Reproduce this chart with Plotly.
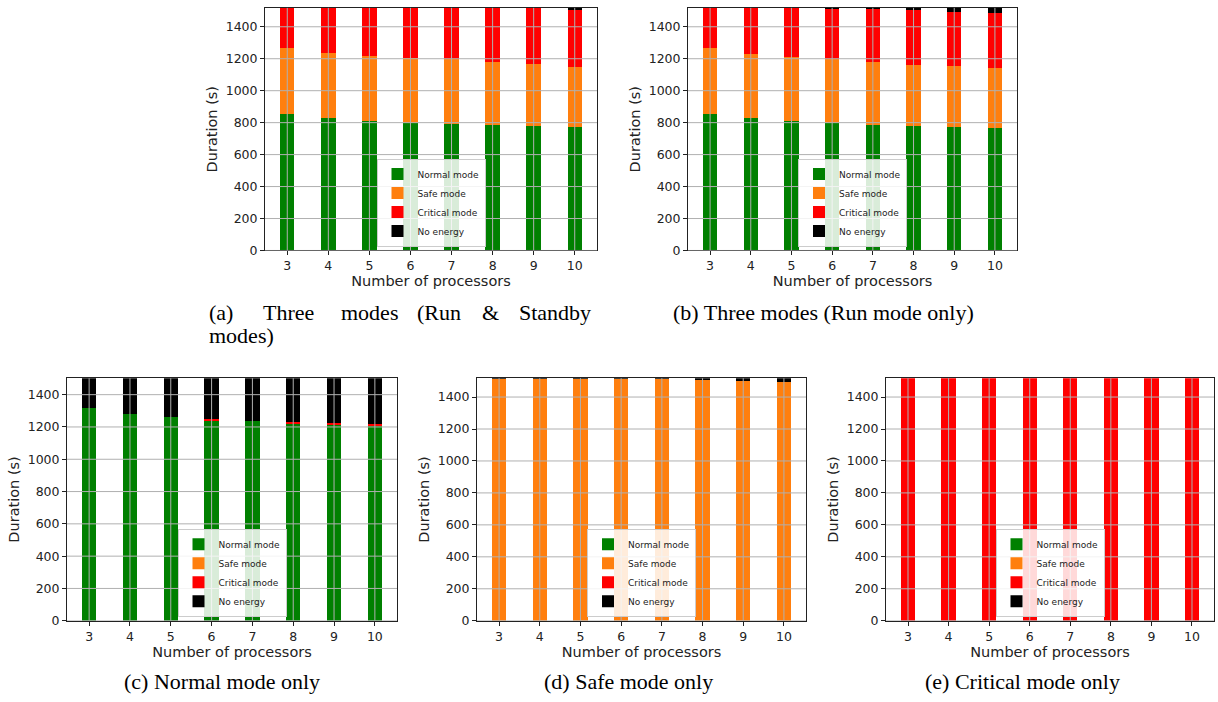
import plotly.graph_objects as go

W, H = 1218, 702

processors = [3, 4, 5, 6, 7, 8, 9, 10]
modes = ["Normal mode", "Safe mode", "Critical mode", "No energy"]
mode_colors = ["#008000", "#ff7f0e", "#ff0000", "#000000"]

# (a) Three modes (Run & Standby modes)
a_normal = [854, 827, 808, 798, 790, 786, 777, 771]
a_safe = [414, 410, 411, 406, 408, 391, 392, 380]
a_critical = [250, 281, 299, 314, 320, 341, 349, 357]
a_noenergy = [0, 0, 0, 0, 0, 0, 0, 10]

# (b) Three modes (Run mode only)
b_normal = [854, 827, 808, 796, 786, 779, 771, 765]
b_safe = [414, 404, 404, 402, 395, 384, 386, 379]
b_critical = [250, 287, 306, 318, 334, 345, 338, 345]
b_noenergy = [0, 0, 0, 2, 3, 10, 23, 29]

# (c) Normal mode only
c_normal = [1315, 1278, 1260, 1239, 1235, 1223, 1215, 1210]
c_safe = [0, 0, 0, 0, 0, 0, 0, 0]
c_critical = [0, 0, 0, 8, 0, 5, 7, 6]
c_noenergy = [187, 224, 242, 255, 267, 274, 280, 286]

# (d) Safe mode only
d_normal = [0, 0, 0, 0, 0, 0, 0, 0]
d_safe = [1514, 1514, 1514, 1514, 1514, 1509, 1499, 1493]
d_critical = [0, 0, 0, 0, 0, 0, 0, 0]
d_noenergy = [4, 4, 4, 4, 4, 9, 19, 25]

# (e) Critical mode only
e_normal = [0, 0, 0, 0, 0, 0, 0, 0]
e_safe = [0, 0, 0, 0, 0, 0, 0, 0]
e_critical = [1518, 1518, 1518, 1518, 1518, 1518, 1518, 1518]
e_noenergy = [0, 0, 0, 0, 0, 0, 0, 0]

panels = [
    [a_normal, a_safe, a_critical, a_noenergy],
    [b_normal, b_safe, b_critical, b_noenergy],
    [c_normal, c_safe, c_critical, c_noenergy],
    [d_normal, d_safe, d_critical, d_noenergy],
    [e_normal, e_safe, e_critical, e_noenergy],
]
y_max = [1518, 1518, 1502, 1518, 1518]
y_ticks = [0, 200, 400, 600, 800, 1000, 1200, 1400]

# pixel boxes of each axes: (left, right, top, bottom)
boxes = [
    (265, 597, 8, 253),
    (688, 1017, 8, 253),
    (67, 397, 382, 627),
    (477, 806, 382, 627),
    (886, 1214, 382, 627),
]

bar_w = 0.35
x_range = [3 - bar_w / 2 - 0.3675, 10 + bar_w / 2 + 0.3675]

fig = go.Figure()
layout = dict(
    width=W, height=H,
    margin=dict(l=0, r=0, t=0, b=0),
    paper_bgcolor="white", plot_bgcolor="white",
    barmode="stack",
    font=dict(family="DejaVu Sans", size=12, color="#000000"),
    showlegend=True,
)
shapes = []
annotations = []

for i, (series, box) in enumerate(zip(panels, boxes)):
    n = i + 1
    xa = "x" if n == 1 else f"x{n}"
    ya = "y" if n == 1 else f"y{n}"
    lg = "legend" if n == 1 else f"legend{n}"
    for name, vals, col in zip(modes, series, mode_colors):
        fig.add_trace(go.Bar(
            x=processors, y=vals, name=name, width=bar_w,
            marker=dict(color=col, line=dict(width=0)),
            xaxis=xa, yaxis=ya, legend=lg, showlegend=True,
        ))
    l, r, t, b = box
    dx = [l / W, r / W]
    dy = [1 - b / H, 1 - t / H]
    axkey = "xaxis" if n == 1 else f"xaxis{n}"
    aykey = "yaxis" if n == 1 else f"yaxis{n}"
    layout[axkey] = dict(
        domain=dx, anchor=ya, range=x_range,
        tickmode="array", tickvals=processors, ticktext=[str(p) for p in processors],
        showgrid=False, zeroline=False,
        showline=True, linecolor="#222222", linewidth=1, mirror=True,
        ticks="outside", ticklen=4, tickcolor="#222222", tickwidth=1,
        tickfont=dict(size=12.5, color="#222222"),
        title=dict(text="Number of processors", font=dict(size=14.5, color="#222222"), standoff=3),
    )
    layout[aykey] = dict(
        domain=dy, anchor=xa, range=[0, y_max[i]],
        tickmode="array", tickvals=y_ticks,
        showgrid=False, zeroline=False,
        showline=True, linecolor="#222222", linewidth=1, mirror=True,
        ticks="outside", ticklen=4, tickcolor="#222222", tickwidth=1,
        tickfont=dict(size=12.5, color="#222222"),
        title=dict(text="Duration (s)", font=dict(size=14.5, color="#222222"), standoff=4),
    )
    # grid lines drawn on top of the bars (matplotlib default)
    for p in processors:
        shapes.append(dict(type="line", xref=xa, yref=f"{ya} domain", x0=p, x1=p, y0=0, y1=1,
                           line=dict(color="#b0b0b0", width=1), layer="above"))
    for v in y_ticks:
        shapes.append(dict(type="line", xref=f"{xa} domain", yref=ya, x0=0, x1=1, y0=v, y1=v,
                           line=dict(color="#b0b0b0", width=1), layer="above"))
    layout[lg] = dict(
        x=(l + r) / 2 / W, xanchor="center",
        y=1 - (b - 4) / H, yanchor="bottom",
        bgcolor="rgba(255,255,255,0.85)", bordercolor="#cccccc", borderwidth=1,
        font=dict(size=9, color="#222222"), tracegroupgap=0,
        traceorder="normal",
    )

cap_font = dict(family="Liberation Serif", size=22, color="#000000")
# caption (a), justified first line
words_a = [("(a)", 207, "left"), ("Three", 288, "center"), ("modes", 369, "center"),
           ("(Run", 439, "center"), ("&", 490, "center"), ("Standby", 593, "right")]
for txt, px, anc in words_a:
    annotations.append(dict(text=txt, x=px / W, y=1 - 316 / H, xref="paper", yref="paper",
                            xanchor=anc, yanchor="middle", showarrow=False, font=cap_font))
annotations.append(dict(text="modes)", x=207 / W, y=1 - 339 / H, xref="paper", yref="paper",
                        xanchor="left", yanchor="middle", showarrow=False, font=cap_font))
captions = [
    ("(b) Three modes (Run mode only)", 823),
    ("(c) Normal mode only", 222),
    ("(d) Safe mode only", 628),
    ("(e) Critical mode only", 1022),
]
for k, (txt, cx) in enumerate(captions):
    cy = 316 if k == 0 else 688
    annotations.append(dict(text=txt, x=cx / W, y=1 - cy / H, xref="paper", yref="paper",
                            xanchor="center", yanchor="middle", showarrow=False, font=cap_font))

layout["shapes"] = shapes
layout["annotations"] = annotations
fig.update_layout(**layout)
fig.write_html("out.html", config={"displayModeBar": False},
               post_script="document.body.style.margin='0px';")
